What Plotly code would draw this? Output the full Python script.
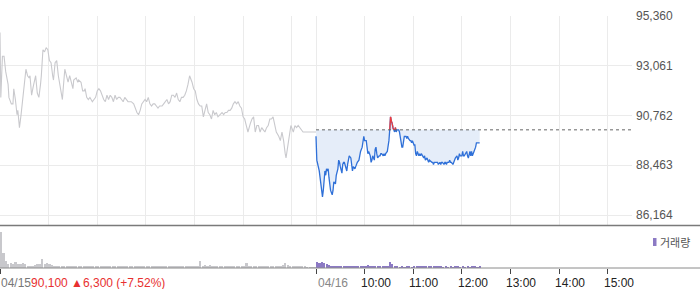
import plotly.graph_objects as go

# ---------------- data ----------------
SESSION_MINUTES = 390  # 09:00 - 15:30

# 04/15 session (minutes since 09:00, price)
prev_minutes = [0, 1, 3, 5, 7, 10, 11, 14, 16, 17, 19, 21, 22, 24, 26, 28, 30, 32, 34, 36, 37, 39, 41, 43, 44, 46, 48, 50, 51, 53,
                55, 57, 59, 61, 63, 65, 66, 68, 70, 72, 74, 77, 78, 80, 82, 84, 86, 88, 90, 91, 94, 96, 97, 100, 102, 104, 105, 107, 109, 111,
                114, 116, 118, 120, 122, 124, 126, 128, 130, 132, 134, 136, 138, 140, 142, 144, 146, 148, 150, 152, 154, 156, 158, 160, 162, 165, 167, 169, 171, 173,
                175, 177, 179, 181, 183, 185, 187, 189, 191, 193, 195, 197, 200, 202, 204, 206, 208, 210, 212, 214, 216, 218, 220, 222, 224, 226, 228, 230, 232, 234,
                237, 239, 241, 243, 245, 247, 249, 251, 253, 255, 257, 259, 261, 263, 265, 267, 269, 272, 274, 276, 278, 280, 282, 284, 286, 288, 290, 292, 294, 296,
                298, 300, 302, 304, 306, 309, 311, 313, 315, 317, 319, 321, 323, 325, 327, 329, 331, 333, 335, 337, 339, 341, 344, 346, 348, 350, 352, 353, 355, 356,
                359, 360, 362, 364, 366, 368, 370, 372, 374, 376, 378, 390]
prev_prices = [94600, 91600, 93500, 93500, 92800, 92200, 91600, 91300, 91300, 92000, 91500, 90800, 91000, 90200, 90800, 91500, 92100, 92900, 92600, 92500, 92600, 91700, 92100, 92400, 92600, 91800, 91600, 92200, 92600, 93800,
               93700, 93900, 93800, 93300, 93200, 92600, 92400, 93200, 93300, 92600, 92100, 91500, 92000, 92900, 92600, 92300, 92600, 92300, 92000, 92400, 92500, 92300, 92400, 92300, 91900, 91900, 92000, 91600, 91500, 91600,
               91400, 91500, 91600, 91900, 92000, 91900, 91700, 91500, 91400, 91700, 91500, 91700, 91600, 91400, 91700, 91500, 91600, 91600, 91500, 91400, 91600, 91500, 91400, 91400, 91400, 91300, 91100, 90900, 90800, 91000,
               91300, 91400, 91500, 91400, 91600, 91300, 91200, 91300, 91300, 91200, 91100, 91200, 91200, 91300, 91400, 91500, 91300, 91400, 91700, 91700, 91600, 91800, 91500, 91400, 91600, 91600, 91700, 91900, 92200, 92600,
               92300, 92000, 91900, 91500, 91300, 91200, 91200, 90700, 91000, 91300, 90900, 90800, 90600, 91000, 90800, 90900, 90700, 90800, 90900, 90800, 90900, 90900, 91000, 91000, 91100, 91300, 91400, 91300, 91400, 91200,
               91100, 90700, 90600, 90300, 90000, 90400, 90600, 90700, 90000, 90300, 90300, 90000, 90200, 90100, 90000, 90200, 90300, 90600, 90600, 90700, 90400, 90000, 89800, 89600, 90000, 89600, 89000, 88800, 89300, 89600,
               90300, 90200, 90000, 90300, 90200, 90300, 90200, 90100, 90000, 90000, 90000, 90000]

# 04/16 session (minutes since 09:00, price)
today_minutes = [0, 1, 4, 6, 8, 9, 10, 11, 12, 13, 14, 15, 16, 17, 18, 20, 21, 22, 24, 25, 27, 28, 29, 30, 32, 33, 34, 35, 37, 38,
                 39, 40, 41, 43, 44, 45, 46, 48, 49, 50, 51, 53, 54, 55, 57, 58, 59, 60, 62, 63, 64, 65, 67, 68, 69, 70, 72, 73, 74, 75,
                 76, 78, 79, 80, 81, 83, 84, 85, 86, 88, 89, 90, 91, 92, 93, 94, 95, 96, 97, 98, 99, 100, 102, 103, 104, 106, 107, 108, 109, 111,
                 112, 113, 114, 116, 117, 118, 119, 121, 122, 123, 124, 125, 127, 128, 129, 130, 132, 133, 134, 135, 137, 138, 139, 140, 142, 143, 144, 145, 146, 148,
                 149, 150, 151, 153, 154, 155, 156, 158, 159, 160, 161, 162, 164, 165, 166, 167, 169, 170, 171, 172, 174, 175, 176, 177, 178, 180, 181, 182, 183, 185,
                 186, 187, 188, 190, 191, 192, 193, 195, 196, 197, 198, 200, 202]
today_prices = [89800, 88700, 88200, 87500, 87000, 87300, 87900, 88200, 88000, 88300, 88200, 88300, 87900, 87500, 87300, 87100, 87300, 87700, 87600, 88000, 88300, 88700, 88600, 88400, 88100, 88500, 88600, 88600, 88300, 88200,
                88500, 88700, 88900, 88800, 88500, 88200, 88400, 88300, 88400, 88500, 88600, 88700, 88900, 89100, 89300, 89500, 89800, 89600, 89600, 89300, 89000, 89100, 88900, 88600, 88700, 88900, 88700, 89200, 89300, 89000,
                88800, 88900, 88900, 89000, 89000, 88900, 89000, 88900, 89000, 89100, 89300, 89600, 90100, 90700, 90500, 90400, 90200, 90100, 90000, 90200, 90000, 90100, 90100, 90000, 89700, 89300, 89300, 89600, 89800, 89800,
                89700, 89800, 89700, 89600, 89600, 89500, 89600, 89400, 89400, 89000, 88900, 89100, 88900, 89000, 88900, 89000, 88900, 88800, 88900, 88700, 88800, 88700, 88600, 88700, 88600, 88600, 88600, 88500, 88600, 88600,
                88600, 88600, 88500, 88600, 88500, 88600, 88600, 88500, 88600, 88600, 88500, 88600, 88600, 88700, 88600, 88600, 88500, 88600, 88700, 88800, 88900, 88700, 88800, 89000, 88900, 88900, 89100, 88900, 88900, 89000,
                89100, 88900, 88800, 89100, 88900, 89100, 88900, 89100, 89200, 89300, 89500, 89500, 89500]

base_price = 90100

# volume in 3-minute bins
VOLUME_BIN = 3
prev_volume = [360, 150, 70, 40, 55, 45, 60, 40, 45, 55, 45, 25, 20, 20, 30, 40, 45, 90, 45, 50,
               45, 35, 20, 20, 15, 20, 25, 15, 20, 15, 15, 20, 15, 15, 20, 15, 15, 20, 25, 20,
               15, 20, 15, 15, 20, 15, 15, 15, 20, 15, 15, 20, 15, 15, 20, 15, 15, 20, 15, 15,
               20, 15, 15, 20, 15, 20, 15, 15, 20, 15, 15, 20, 15, 15, 20, 15, 20, 15, 15, 20,
               15, 15, 70, 25, 30, 25, 35, 20, 15, 15, 20, 15, 15, 20, 15, 15, 20, 15, 20, 15,
               20, 50, 25, 20, 25, 20, 25, 20, 25, 20, 25, 20, 20, 25, 20, 25, 30, 55, 30, 25,
               20, 25, 20, 20, 25, 20, 10, 8, 8, 8]
today_volume = [60, 50, 65, 55, 40, 30, 20, 15, 20, 15, 15, 15, 20, 15, 15, 15, 20, 15, 15, 20,
                15, 35, 15, 12, 12, 15, 12, 15, 12, 15, 60, 40, 12, 12, 10, 12, 10, 12, 12, 10,
                12, 12, 15, 15, 15, 15, 12, 12, 15, 12, 12, 12, 10, 12, 10, 12, 10, 12, 12, 10,
                12, 10, 12, 10, 12, 12, 10, 12]

price_ticks = [86164, 88463, 90762, 93061, 95360]
time_ticks = ["10:00", "11:00", "12:00", "13:00", "14:00", "15:00"]
prev_date, today_date = "04/15", "04/16"
summary_text = "90,100 ▲6,300 (+7.52%)"
volume_label = "거래량"

# ---------------- derived positions ----------------
prev_x = list(prev_minutes)
today_x = [SESSION_MINUTES + m for m in today_minutes]
total = 2 * SESSION_MINUTES

def hm_to_min(s):
    h, m = s.split(":")
    return int(h) * 60 + int(m) - 540

time_x = [SESSION_MINUTES + hm_to_min(t) for t in time_ticks]
prev_grid = [hm_to_min(t) for t in time_ticks]
grid_x = prev_grid + [SESSION_MINUTES] + time_x

# red overlay (portions above the base price)
red_x, red_y = [], []
for i in range(len(today_x) - 1):
    x0, y0, x1, y1 = today_x[i], today_prices[i], today_x[i + 1], today_prices[i + 1]
    if y0 <= base_price and y1 <= base_price:
        continue
    if y0 < base_price:
        xs = x0 + (base_price - y0) / (y1 - y0) * (x1 - x0)
        sx, sy = xs, base_price
    else:
        sx, sy = x0, y0
    if y1 < base_price:
        xe = x0 + (base_price - y0) / (y1 - y0) * (x1 - x0)
        ex, ey = xe, base_price
    else:
        ex, ey = x1, y1
    red_x += [sx, ex, None]
    red_y += [sy, ey, None]

FONT = "Liberation Sans, Arial, Noto Sans CJK KR, sans-serif"
W, H = 700, 289
ML, MR, MT, MB = 0, 68, 16, 21
plot_w = W - ML - MR
plot_h = H - MT - MB
main_bottom_px = 225
vol_top_px = 226


def ypaper(py):
    return (H - MB - py) / plot_h


def xpaper(px):
    return (px - ML) / plot_w


fig = go.Figure()

fig.add_trace(go.Scatter(x=prev_x, y=prev_prices, mode="lines",
                         line=dict(color="#c9c9cd", width=1.1), hoverinfo="skip",
                         xaxis="x", yaxis="y"))
# hidden base for fill
fig.add_trace(go.Scatter(x=[today_x[0], today_x[-1]], y=[base_price, base_price], mode="lines",
                         line=dict(color="rgba(0,0,0,0)", width=0), hoverinfo="skip",
                         xaxis="x", yaxis="y"))
fig.add_trace(go.Scatter(x=today_x, y=today_prices, mode="lines", fill="tonexty",
                         fillcolor="#e5edf9", line=dict(color="#2f70d8", width=1.3),
                         hoverinfo="skip", xaxis="x", yaxis="y"))
fig.add_trace(go.Scatter(x=red_x, y=red_y, mode="lines",
                         line=dict(color="#f23a3a", width=1.3), hoverinfo="skip",
                         xaxis="x", yaxis="y"))
fig.add_trace(go.Scatter(x=[SESSION_MINUTES, total], y=[base_price, base_price], mode="lines",
                         line=dict(color="#666666", width=1, dash="dot"), hoverinfo="skip",
                         xaxis="x", yaxis="y"))

# volume
fig.add_trace(go.Bar(x=[VOLUME_BIN * i + VOLUME_BIN / 2 for i in range(len(prev_volume))], y=prev_volume,
                     width=2.1, marker=dict(color="#c8c8cc", line=dict(width=0)),
                     hoverinfo="skip", xaxis="x2", yaxis="y2"))
fig.add_trace(go.Bar(x=[SESSION_MINUTES + VOLUME_BIN * i + VOLUME_BIN / 2 for i in range(len(today_volume))],
                     y=today_volume, width=2.1, marker=dict(color="#8c7ac4", line=dict(width=0)),
                     hoverinfo="skip", xaxis="x2", yaxis="y2"))

main_dom = [ypaper(main_bottom_px), 1]
vol_dom = [0, ypaper(vol_top_px)]

fig.update_layout(
    width=W, height=H,
    margin=dict(l=ML, r=MR, t=MT, b=MB),
    paper_bgcolor="white", plot_bgcolor="white",
    showlegend=False,
    font=dict(family=FONT, size=12, color="#555555"),
    bargap=0,
    xaxis=dict(domain=[0, 1], range=[0, total], anchor="y",
               tickvals=grid_x, showticklabels=False, ticks="",
               showgrid=True, gridcolor="#ebebeb", gridwidth=1,
               zeroline=False, showline=False, fixedrange=True),
    yaxis=dict(domain=main_dom, range=[85703, 95360], side="right", anchor="x",
               tickvals=price_ticks, ticktext=[f"{v:,}" for v in price_ticks],
               showgrid=True, gridcolor="#ebebeb", gridwidth=1, ticks="",
               ticklabelstandoff=3,
               tickfont=dict(family=FONT, size=12, color="#555555"),
               zeroline=False, showline=False, fixedrange=True),
    xaxis2=dict(domain=[0, 1], range=[0, total], anchor="y2",
                tickvals=[0, SESSION_MINUTES] + time_x, showticklabels=False,
                ticks="outside", ticklen=5, tickwidth=1, tickcolor="#444444",
                showgrid=False, zeroline=False, showline=False, fixedrange=True),
    yaxis2=dict(domain=vol_dom, range=[0, 420], anchor="x2", visible=False,
                showgrid=False, zeroline=False, fixedrange=True),
)

shapes = [
    dict(type="line", xref="paper", yref="paper", x0=0, x1=W / plot_w,
         y0=ypaper(225.5), y1=ypaper(225.5), line=dict(color="#7a7a7a", width=1.5)),
    dict(type="line", xref="paper", yref="paper", x0=0, x1=W / plot_w,
         y0=0, y1=0, line=dict(color="#8a8a8a", width=1)),
    dict(type="rect", xref="paper", yref="paper", x0=xpaper(653), x1=xpaper(656.5),
         y0=ypaper(246), y1=ypaper(238), line=dict(width=0), fillcolor="#8c7ac4"),
]
fig.update_layout(shapes=shapes)

label_y = ypaper(282.5)
anns = [
    dict(x=0, xref="x2", y=label_y, yref="paper", xanchor="left", yanchor="middle",
         text=f"<span style='color:#777777'>{prev_date}</span><span style='color:#e83030'>{summary_text}</span>",
         showarrow=False, xshift=-1, font=dict(family=FONT, size=12)),
    dict(x=SESSION_MINUTES, xref="x2", y=label_y, yref="paper", xanchor="left", yanchor="middle",
         text=today_date, showarrow=False, xshift=0, font=dict(family=FONT, size=12, color="#888888")),
    dict(x=xpaper(659), xref="paper", y=ypaper(242), yref="paper", xanchor="left", yanchor="middle",
         text=volume_label, showarrow=False, xshift=-1,
         font=dict(family="Noto Sans CJK KR, sans-serif", size=11, color="#555555")),
]
for tx, tl in zip(time_x, time_ticks):
    anns.append(dict(x=tx, xref="x2", y=label_y, yref="paper", xanchor="left", yanchor="middle",
                     text=tl, showarrow=False, xshift=-6,
                     font=dict(family=FONT, size=12, color="#222222")))
fig.update_layout(annotations=anns)

fig.write_html("out.html")
